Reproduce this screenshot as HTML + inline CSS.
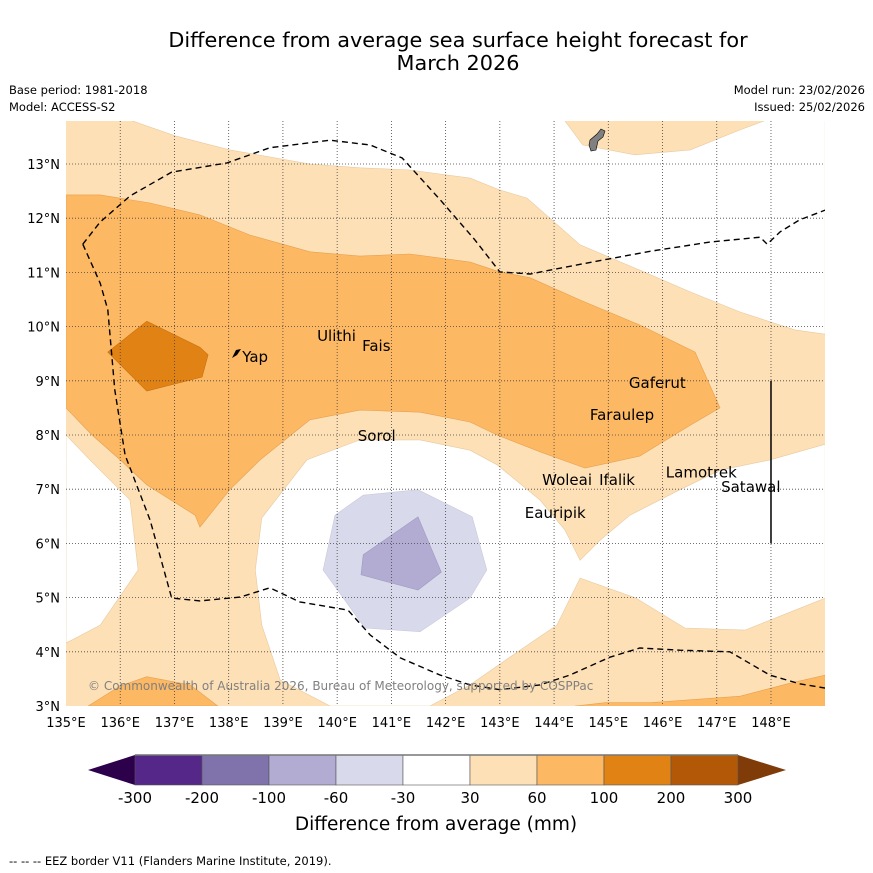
<!DOCTYPE html>
<html><head><meta charset="utf-8"><style>
html,body{margin:0;padding:0;background:#fff;}
svg{display:block;font-family:"DejaVu Sans","Liberation Sans",sans-serif;}
</style></head><body>
<svg id="chart" width="873" height="873" viewBox="0 0 873 873">
<rect width="873" height="873" fill="#fff"/>
<text x="458" y="47" font-size="20.8" text-anchor="middle">Difference from average sea surface height forecast for</text>
<text x="458" y="70" font-size="20.8" text-anchor="middle">March 2026</text>
<text x="9" y="94" font-size="11.5">Base period: 1981-2018</text>
<text x="9" y="111" font-size="11.5">Model: ACCESS-S2</text>
<text x="865" y="94" font-size="11.5" text-anchor="end">Model run: 23/02/2026</text>
<text x="865" y="111" font-size="11.5" text-anchor="end">Issued: 25/02/2026</text>
<defs><clipPath id="mapclip"><rect x="66" y="121" width="759" height="585"/></clipPath></defs>
<g id="map" clip-path="url(#mapclip)"></g>
<g id="axes"></g>
<g id="cbar"></g>
<text x="436" y="830" font-size="18.5" text-anchor="middle">Difference from average (mm)</text>
<text x="9" y="865" font-size="11.5">--  --  -- EEZ border V11 (Flanders Marine Institute, 2019).</text>
</svg>
<script>
const lonTicks=[135,136,137,138,139,140,141,142,143,144,145,146,147,148];
const latTicks=[3,4,5,6,7,8,9,10,11,12,13];
const topWhite=[[136.24,13.79],[137.01,13.52],[138.02,13.26],[139.5,13.0],[140.42,12.93],[141.34,12.89],[142.45,12.74],[143.0,12.52],[143.5,12.37],[144.48,11.51],[145.58,11.04],[146.51,10.64],[147.43,10.27],[148.44,9.94],[149,9.86],[149,13.9],[136,13.9]];
const guamPatch=[[144.16,13.85],[144.53,13.35],[145.49,13.17],[146.51,13.26],[147.43,13.63],[148.02,13.85]];
const leftWhite=[[135,8.0],[135.48,7.5],[136.18,6.8],[136.33,5.51],[135.63,4.49],[135,4.16]];
const centerWhite=[[138.61,6.47],[139.44,7.54],[140.42,7.91],[141.53,7.91],[142.45,7.72],[142.95,7.45],[143.74,6.8],[144.2,6.25],[144.48,5.69],[144.85,6.06],[145.4,6.52],[146.32,6.99],[147.06,7.35],[147.98,7.54],[149,7.83],[149,4.99],[148.35,4.73],[147.52,4.4],[146.41,4.44],[145.51,4.99],[144.48,5.36],[144.05,4.49],[143.37,4.03],[142.45,3.39],[141.71,3.0],[139.87,3.0],[138.95,3.48],[138.61,4.49],[138.49,5.51]];
const midOrange=[[135,12.43],[135.63,12.43],[136.55,12.28],[137.47,12.06],[138.39,11.69],[139.5,11.38],[140.42,11.3],[141.34,11.34],[142.45,11.19],[143.0,11.01],[143.56,10.9],[144.48,10.49],[145.58,10.03],[146.6,9.53],[147.06,8.5],[146.51,8.18],[145.58,7.61],[144.57,7.39],[143.74,7.69],[142.95,8.0],[142.45,8.24],[141.53,8.42],[140.42,8.46],[139.5,8.28],[138.58,7.54],[138.02,6.99],[137.47,6.3],[137.38,6.52],[136.49,7.08],[136.0,7.54],[135.48,8.0],[135,8.5]];
const darkOrange=[[135.77,9.53],[136.49,10.1],[137.47,9.62],[137.62,9.48],[137.51,9.07],[136.49,8.81]];
const bottomLeftMid=[[135.41,3.0],[136.0,3.37],[136.49,3.54],[137.29,3.39],[137.8,3.0]];
const bottomRightMid=[[144.39,3.0],[144.94,3.06],[145.77,3.06],[147.43,3.18],[148.35,3.42],[149,3.57],[149,2.9],[144.39,2.9]];
const lightPurple=[[139.96,6.52],[140.48,6.89],[141.49,6.99],[142.49,6.49],[142.76,5.51],[142.45,4.99],[141.53,4.37],[140.51,4.44],[139.74,5.51]];
const midPurple=[[140.48,5.79],[141.49,6.49],[141.92,5.47],[141.49,5.14],[140.44,5.42]];
const eezNorth=[[135.31,11.52],[135.63,11.93],[136.18,12.41],[136.95,12.85],[137.97,13.02],[138.76,13.3],[139.87,13.44],[140.61,13.35],[141.2,13.11],[141.9,12.34],[142.54,11.6],[143.0,11.01],[143.56,10.97],[144.48,11.15],[145.77,11.39],[146.88,11.56],[147.8,11.65],[147.93,11.52],[148.17,11.75],[148.53,11.97],[149,12.15]];
const eezSouth=[[135.31,11.52],[135.63,10.8],[135.77,10.31],[135.9,8.83],[136.09,7.63],[136.55,6.43],[136.95,4.99],[137.47,4.94],[138.21,5.01],[138.76,5.18],[139.31,4.92],[140.2,4.77],[140.61,4.31],[141.16,3.89],[141.9,3.57],[142.45,3.39],[143.0,3.3],[143.74,3.39],[144.29,3.57],[145.03,3.9],[145.58,4.07],[146.32,4.03],[147.24,4.0],[147.98,3.57],[148.53,3.41],[149,3.33]];
const places=["Ulithi","Fais","Yap","Sorol","Gaferut","Faraulep","Woleai","Ifalik","Eauripik","Lamotrek","Satawal"];
const placeLon=[139.63,140.46,138.25,140.38,145.38,144.66,143.78,144.83,143.46,146.06,147.08];
const placeLat=[9.73,9.55,9.35,7.89,8.87,8.28,7.08,7.08,6.47,7.22,6.95];
const cbLabels=["-300","-200","-100","-60","-30","30","60","100","200","300"];
const cbColors=["#542788","#8073ac","#b2abd2","#d8daeb","#ffffff","#fee0b6","#fdb863","#e08214","#b35806"];
const NS="http://www.w3.org/2000/svg";
const X=lon=>66+(lon-135)*54.23, Y=lat=>706-(lat-3)*54.2;
const map=document.getElementById('map'), axes=document.getElementById('axes'), cb=document.getElementById('cbar');
function mk(tag,attrs,parent){const e=document.createElementNS(NS,tag);for(const k in attrs)e.setAttribute(k,attrs[k]);parent.appendChild(e);return e;}
function pts(a){return a.map(p=>X(p[0]).toFixed(1)+','+Y(p[1]).toFixed(1)).join(' ');}
let bg=mk('rect',{x:66,y:121,width:759,height:585,fill:'#fee0b6'},map);


function poly(a,fill,name,stroke){const e=mk('polygon',{points:pts(a),fill:fill,stroke:stroke||'none','stroke-width':0.6},map);

return e;}
poly(topWhite,'#fff','contour-white-north','#e8c9a0');
poly(guamPatch,'#fee0b6','contour-30-60-guam','#e8c9a0');
poly(leftWhite,'#fff','contour-white-west','#e8c9a0');
poly(centerWhite,'#fff','contour-white-center','#e8c9a0');
poly(midOrange,'#fdb863','contour-60-100','#e6a050');
poly(darkOrange,'#e08214','contour-100-200','#c87010');
poly(bottomLeftMid,'#fdb863','contour-60-100-sw','#e6a050');
poly(bottomRightMid,'#fdb863','contour-60-100-se','#e6a050');
poly(lightPurple,'#d8daeb','contour-neg30-60','#c8c8dc');
poly(midPurple,'#b2abd2','contour-neg60-100','#a09ac0');
lonTicks.forEach(l=>{if(l>135){const g=mk('line',{x1:X(l),x2:X(l),y1:121,y2:706,stroke:'#444','stroke-width':0.8,'stroke-dasharray':'1,2'},map);

}});
latTicks.forEach(l=>{if(l>3){const g=mk('line',{x1:66,x2:825,y1:Y(l),y2:Y(l),stroke:'#444','stroke-width':0.8,'stroke-dasharray':'1,2'},map);

}});
[eezNorth,eezSouth].forEach((a,i)=>{const e=mk('polyline',{points:pts(a),fill:'none',stroke:'#000','stroke-width':1.4,'stroke-dasharray':'6,4'},map);

});
let vl=mk('line',{x1:X(148),x2:X(148),y1:Y(9),y2:Y(6),stroke:'#000','stroke-width':1.5},map);


let guam=mk('path',{d:'M590 140 L597 134 L601 129 L605 131 L603 137 L598 141 L596 150 L591 151 L589 145 Z',fill:'#808080',stroke:'#000','stroke-width':0.6},map);


let yap=mk('path',{d:'M232 358 L236 350 L241 349 L237 355 Z',fill:'#000'},map);


places.forEach((p,i)=>{const t=mk('text',{x:X(placeLon[i]),y:Y(placeLat[i]),'font-size':15,fill:'#000'},map);t.textContent=p;

});
let cr=mk('text',{x:88,y:690,'font-size':12,fill:'#808080'},map);cr.textContent='© Commonwealth of Australia 2026, Bureau of Meteorology, supported by COSPPac';


lonTicks.forEach(l=>{const t=mk('text',{x:X(l),y:727,'font-size':13,'text-anchor':'middle'},axes);t.textContent=l+'°E';

});
latTicks.forEach(l=>{const t=mk('text',{x:60,y:Y(l)+5,'font-size':13,'text-anchor':'end'},axes);t.textContent=l+'°N';

});
const cx0=135,cx1=738,cy=755,ch=30,sw=(cx1-cx0)/cbColors.length;
let lt=mk('polygon',{points:`88,770 ${cx0},${cy} ${cx0},${cy+ch}`,fill:'#2d004b'},cb);


let rt=mk('polygon',{points:`786,770 ${cx1},${cy} ${cx1},${cy+ch}`,fill:'#7f3b08'},cb);


cbColors.forEach((c,i)=>{const r=mk('rect',{x:cx0+i*sw,y:cy,width:sw,height:ch,fill:c,stroke:'#555','stroke-width':0.6},cb);

});
mk('line',{x1:cx0,x2:cx1,y1:cy,y2:cy,stroke:'#777','stroke-width':1.5},cb);
cbLabels.forEach((s,i)=>{const t=mk('text',{x:cx0+i*sw,y:803,'font-size':15,'text-anchor':'middle'},cb);t.textContent=s;

});
</script>
</body></html>
